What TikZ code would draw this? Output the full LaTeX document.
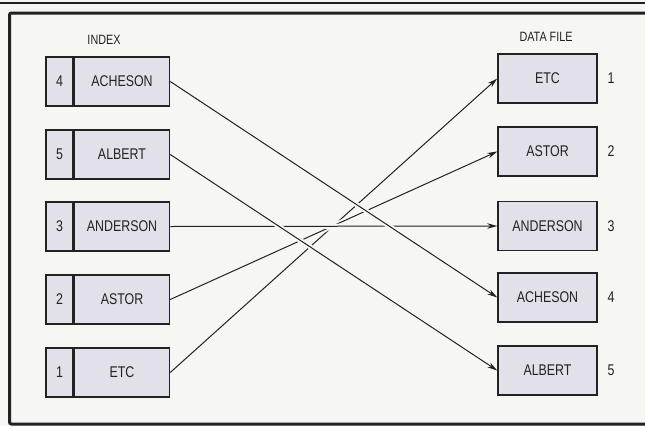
\documentclass[tikz,border=0pt]{standalone}
\usepackage{fontspec}
\setmainfont{Liberation Sans}[FakeStretch=0.8]
\usetikzlibrary{arrows.meta}
\definecolor{bg}{HTML}{F6F6F3}
\definecolor{boxfill}{HTML}{E2E1EA}
\definecolor{ink}{HTML}{222222}
\begin{document}
\begin{tikzpicture}[x=1pt,y=-1pt,
  boxtext/.style={font=\fontsize{15.5}{15.5}\selectfont,text=ink},
  numcell/.style={boxtext,draw=ink,fill=boxfill,line width=1.5pt,minimum width=27pt,minimum height=49pt,inner sep=0pt},
  namecell/.style={boxtext,draw=ink,fill=boxfill,line width=1.5pt,minimum width=95pt,minimum height=49pt,inner sep=0pt},
  databox/.style={boxtext,draw=ink,fill=boxfill,line width=1.5pt,minimum width=99pt,minimum height=49pt,inner sep=0pt},
  numlabel/.style={boxtext,inner sep=0pt},
  heading/.style={font=\fontsize{13.5}{13.5}\selectfont,text=ink,inner sep=0pt},
  link/.style={draw=ink,line width=1pt,-{Stealth[length=10pt,width=5.5pt]}},
  halo/.style={preaction={draw=bg,line width=5pt,arrows=-,shorten <=6pt,shorten >=6pt}}]
\useasboundingbox (0,0) rectangle (645,426);
\fill[bg] (0,0) rectangle (645,426);
% frame
\draw[ink,line width=1.2pt] (0,3) -- (645,3);
\draw[ink,line width=3pt,rounded corners=2pt] (646,13) -- (9.5,13) -- (9.5,424) -- (646,424);
% headings
\node[heading] (hidx) at (104,40) {INDEX};
\node[heading] (hdat) at (546,37) {DATA FILE};
% left boxes
\node[numcell] (n1) at (59.5,81.5) {4};
\node[namecell,anchor=west] (i1) at (n1.east) {ACHESON};
\node[numcell] (n2) at (59.5,154.5) {5};
\node[namecell,anchor=west] (i2) at (n2.east) {ALBERT};
\node[numcell] (n3) at (59.5,226.5) {3};
\node[namecell,anchor=west] (i3) at (n3.east) {ANDERSON};
\node[numcell] (n4) at (59.5,299.5) {2};
\node[numcell] (n5) at (59.5,372.5) {1};
\node[namecell,anchor=west] (i4) at (n4.east) {ASTOR};
\node[namecell,anchor=west] (i5) at (n5.east) {ETC};
% right boxes
\node[databox] (d1) at (547.5,78.5) {ETC};
\node[databox] (d2) at (547.5,151.5) {ASTOR};
\node[databox] (d3) at (547.5,226) {ANDERSON};
\node[databox] (d4) at (547.5,297.5) {ACHESON};
\node[databox] (d5) at (547.5,370.5) {ALBERT};
\node[numlabel] (m1) at (611,78.5) {1};
\node[numlabel] (m2) at (611,151.5) {2};
\node[numlabel] (m3) at (611,226) {3};
\node[numlabel] (m4) at (611,297.5) {4};
\node[numlabel] (m5) at (611,370.5) {5};
% connectors (ascending first, then horizontal, then descending on top)
\draw[link] (i5.east) -- (d1.west);
\draw[link,halo] (i4.east) -- (d2.west);
\draw[link,halo] (i3.east) -- (d3.west);
\draw[link,halo] (i2.east) -- (d5.west);
\draw[link,halo] (i1.east) -- (d4.west);
\end{tikzpicture}
\end{document}
